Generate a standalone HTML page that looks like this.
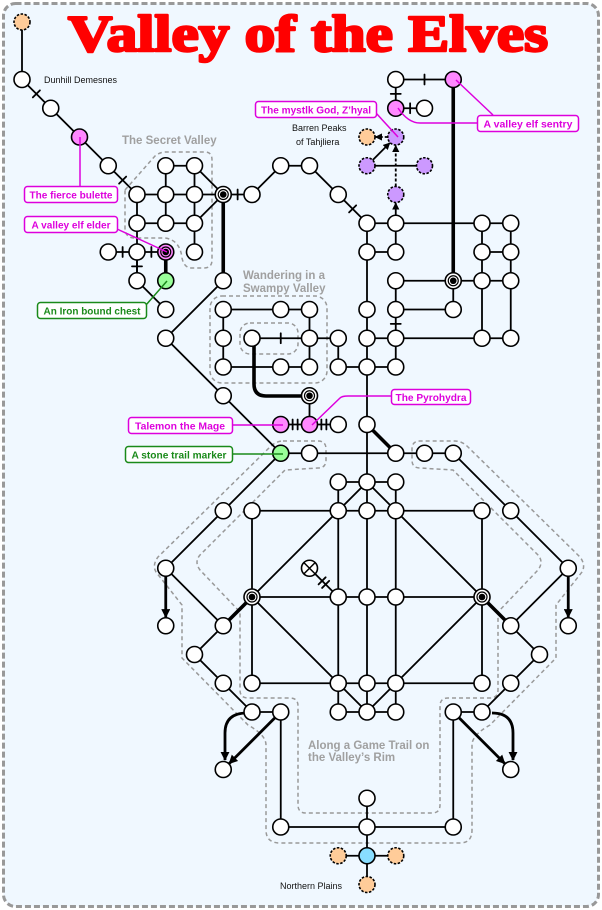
<!DOCTYPE html>
<html><head><meta charset="utf-8"><style>
html,body{margin:0;padding:0;background:#fff;}
svg{display:block;}
.lb{font-family:"Liberation Sans",sans-serif;font-weight:bold;font-size:10.5px;}
.sm{font-family:"Liberation Sans",sans-serif;font-size:9px;fill:#111;}
.rg{font-family:"Liberation Sans",sans-serif;font-weight:bold;font-size:11.5px;fill:#a0a0a0;}
</style></head><body>
<svg id="s" width="602" height="910" viewBox="0 0 602 910" xmlns="http://www.w3.org/2000/svg">
<defs>
<marker id="ah" viewBox="0 0 10 10" refX="9" refY="5" markerWidth="3.2" markerHeight="3.2" orient="auto" markerUnits="strokeWidth"><path d="M0,0 L10,5 L0,10 Z" fill="#000"/></marker>
<marker id="as" viewBox="0 0 10 10" refX="9" refY="5" markerWidth="4" markerHeight="4" orient="auto" markerUnits="strokeWidth"><path d="M0,0 L10,5 L0,10 Z" fill="#000"/></marker>
</defs>
<rect x="3.5" y="3.5" width="595" height="903" rx="12" fill="#f0f8ff" stroke="#999" stroke-width="3" stroke-dasharray="6,3"/>
<text x="308" y="51" text-anchor="middle" font-family="'Liberation Serif',serif" font-weight="bold" font-size="52" fill="#ff0000" stroke="#ff0000" stroke-width="2.5" stroke-linejoin="round" textLength="480" lengthAdjust="spacingAndGlyphs">Valley of the Elves</text>
<g fill="none" stroke="#999" stroke-width="1.5" stroke-dasharray="4,3">
<path d="M125,190 L155,156 Q160,152 166,152 L205,152 Q212,152 212,160 L212,260 Q212,268 204,268 L192,268 Q184,268 182,258 Q180,240 165,238 L135,238 Q125,238 125,228 Z"/>
<rect x="210" y="296" width="117" height="87" rx="12"/>
<rect x="240" y="323" width="58" height="31" rx="10"/>
<path d="M283,441 L318,441 Q326,441 326,449 L326,460 Q326,468 318,468 L285,470 L200,555 Q194,562 200,570 L240,612 L240,690 Q240,698 248,698 L290,698 Q298,698 298,706 L298,805 Q298,813 306,813 L432,813 Q440,813 440,805 L440,706 Q440,698 448,698 L490,698 Q498,698 498,690 L498,612 L538,570 Q544,562 538,555 L453,470 L420,468 Q412,468 412,460 L412,449 Q412,441 420,441 L455,441 Q462,441 468,447 L580,557 Q586,565 582,572 L556,605 L556,658 L490,725 Q472,735 472,745 L472,830 Q472,843 460,843 L280,843 Q266,843 266,830 L266,745 Q266,735 248,725 L182,658 L182,605 L156,572 Q152,565 158,557 L270,447 Q276,441 283,441 Z"/>
</g>
<g id="edges" stroke="#000" fill="none" stroke-linecap="round"></g>
<g id="nodes"></g>
<g fill="none" stroke-width="1.5">
<path d="M80,137 L80,186" stroke="#dd00dd"/>
<path d="M117,229 L167,252" stroke="#dd00dd"/>
<path d="M146,305 L167,281" stroke="#1a8a1a"/>
<path d="M376,113 L398,137" stroke="#dd00dd"/>
<path d="M456,80 L493,115" stroke="#dd00dd"/>
<path d="M398,108 Q408,123 420,123 L477,123" stroke="#dd00dd"/>
<path d="M312,425 L340,398 Q342,396 348,396 L391,396" stroke="#dd00dd"/>
<path d="M232,425 L283,425" stroke="#dd00dd"/>
<path d="M232,454 L283,454" stroke="#1a8a1a"/>
</g>
<g stroke-width="1.5" fill="#fff">
<rect x="24.5" y="186.5" width="93" height="16" rx="3" stroke="#dd00dd"/>
<rect x="24.5" y="216.5" width="93" height="16" rx="3" stroke="#dd00dd"/>
<rect x="37.5" y="302.5" width="109" height="16" rx="3" stroke="#1a8a1a"/>
<rect x="255.5" y="101.5" width="121" height="16" rx="3" stroke="#dd00dd"/>
<rect x="477.5" y="115.5" width="101" height="16" rx="3" stroke="#dd00dd"/>
<rect x="391.5" y="389.5" width="79" height="15" rx="3" stroke="#dd00dd"/>
<rect x="128.5" y="417.5" width="104" height="16" rx="3" stroke="#dd00dd"/>
<rect x="125.5" y="446.5" width="107" height="16" rx="3" stroke="#1a8a1a"/>
</g>
<g class="lb" fill="#dd00dd" text-anchor="middle" lengthAdjust="spacingAndGlyphs">
<text x="71" y="198.5" textLength="83" lengthAdjust="spacingAndGlyphs">The fierce bulette</text>
<text x="71" y="228.5" textLength="79" lengthAdjust="spacingAndGlyphs">A valley elf elder</text>
<text x="316" y="113.5" textLength="110" lengthAdjust="spacingAndGlyphs">The mystlk God, Z’hyal</text>
<text x="528" y="127.5" textLength="89" lengthAdjust="spacingAndGlyphs">A valley elf sentry</text>
<text x="431" y="401" textLength="71" lengthAdjust="spacingAndGlyphs">The Pyrohydra</text>
<text x="180" y="429.5" textLength="90" lengthAdjust="spacingAndGlyphs">Talemon the Mage</text>
</g>
<g class="lb" fill="#1a8a1a" text-anchor="middle">
<text x="92" y="314.5" textLength="97" lengthAdjust="spacingAndGlyphs">An Iron bound chest</text>
<text x="179" y="458.5" textLength="95" lengthAdjust="spacingAndGlyphs">A stone trail marker</text>
</g>
<text class="sm" x="44" y="83">Dunhill Demesnes</text>
<text class="sm" x="292" y="131">Barren Peaks</text>
<text class="sm" x="296" y="145">of Tahjliera</text>
<text class="sm" x="280" y="889">Northern Plains</text>
<text class="rg" x="122" y="144">The Secret Valley</text>
<text class="rg" x="243" y="279">Wandering in a</text>
<text class="rg" x="243" y="292">Swampy Valley</text>
<text class="rg" x="308" y="749">Along a Game Trail on</text>
<text class="rg" x="308" y="761">the Valley’s Rim</text>
</svg>
<script>
var NS="http://www.w3.org/2000/svg";
function X(i){return 22+28.75*i;}
function el(p,t,a){var e=document.createElementNS(NS,t);for(var k in a)e.setAttribute(k,a[k]);p.appendChild(e);return e;}
var E=document.getElementById("edges"),N=document.getElementById("nodes");
function ln(a,b,c,d,w,extra){var o={x1:X(a),y1:X(b),x2:X(c),y2:X(d),"stroke-width":w||1.8};for(var k in extra)o[k]=extra[k];return el(E,"line",o);}
function tick(a,b,c,d,n){var x1=X(a),y1=X(b),x2=X(c),y2=X(d);var mx=(x1+x2)/2,my=(y1+y2)/2;var L=Math.hypot(x2-x1,y2-y1),ux=(x2-x1)/L,uy=(y2-y1)/L,px=-uy,py=ux;
 var offs=n==2?[-2.5,2.5]:[0];offs.forEach(function(o){var cx=mx+ux*o,cy=my+uy*o;el(E,"line",{x1:cx+px*5,y1:cy+py*5,x2:cx-px*5,y2:cy-py*5,"stroke-width":1.8});});}
function arr(a,b,c,d,w,dash,mk){var x1=X(a),y1=X(b),x2=X(c),y2=X(d);var L=Math.hypot(x2-x1,y2-y1),ux=(x2-x1)/L,uy=(y2-y1)/L;
 var o={x1:x1+ux*8,y1:y1+uy*8,x2:x2-ux*8.5,y2:y2-uy*8.5,"stroke-width":w,"marker-end":"url(#"+mk+")","stroke-linecap":"butt"};if(dash)o["stroke-dasharray"]="3,2";el(E,"line",o);}
var thin=[[0,0,0,2],[1,3,2,4],[2,4,3,5],[4,6,7,6],[5,5,6,5],[5,5,5,7],[6,5,6,8],[6,5,7,6],[4,6,4,9],[4,7,6,7],[6,7,7,6],[4,9,5,10],[8,6,9,5],[9,5,10,5],[10,5,11,6],[7,9,5,11],[5,11,9,15],
[12,7,17,7],[12,8,13,8],[16,8,17,8],[12,7,12,24],[12,27,12,30],[13,7,13,8],[13,9,17,9],[13,9,13,10],[13,11,13,12],[13,10,15,10],[15,9,15,10],[16,7,16,11],[17,7,17,11],[12,11,17,11],[12,5,14,5],
[7,10,10,10],[7,10,7,12],[10,10,10,12],[10,11,11,11],[7,12,10,12],[11,11,11,12],[11,12,13,12],[10,13,10,14],
[9,15,15,15],[11,16,13,16],[8,17,16,17],[11,16,11,24],[13,16,13,24],[8,17,8,23],[16,17,16,23],[8,20,16,20],[12,16,8,20],[12,16,16,20],[8,20,12,24],[16,20,12,24],[8,23,16,23],[11,24,13,24],
[9,15,5,19],[15,15,19,19],[5,19,7,21],[19,19,17,21],[7,21,6,22],[17,21,18,22],[6,22,8,24],[18,22,16,24],[8,24,9,24],[15,24,16,24],[9,24,9,28],[15,24,15,28],[9,28,15,28],[11,29,13,29]];
thin.forEach(function(e){ln(e[0],e[1],e[2],e[3]);});
var ticks=[[0,2,1,3],[3,5,4,6],[3,8,4,8],[4,8,5,8],[4,8,4,9],[7,6,8,6],[11,6,12,7],[13,10,13,11],[13,2,15,2],[13,2,13,3],[13,3,14,3],[8,11,10,11]];
ticks.forEach(function(e){ln(e[0],e[1],e[2],e[3]);tick(e[0],e[1],e[2],e[3],1);});
var dbl=[[9,14,10,14],[10,14,11,14],[10,19,11,20]];
dbl.forEach(function(e){ln(e[0],e[1],e[2],e[3]);tick(e[0],e[1],e[2],e[3],2);});
[[5,8,5,9],[7,6,7,9],[15,2,15,9],[12,14,13,15],[7,21,8,20],[17,21,16,20]].forEach(function(e){ln(e[0],e[1],e[2],e[3],3.6);});
el(E,"path",{d:"M254,339 L254,384 Q254,396 266,396 L312,396","stroke-width":3.6});
arr(13,7,13,6,1.8,false,"as");arr(13,6,13,4,1.8,true,"as");arr(13,4,12,4,1.8,true,"as");arr(12,5,13,4,1.8,false,"as");
arr(5,19,5,21,2.8,false,"ah");arr(19,19,19,21,2.8,false,"ah");arr(9,24,7,26,2.8,false,"ah");arr(15,24,17,26,2.8,false,"ah");
el(E,"path",{d:"M247,713 Q225,713 225,733 L225,760","stroke-width":2.8,"marker-end":"url(#ah)","stroke-linecap":"butt"});
el(E,"path",{d:"M492,713 Q513,713 513,733 L513,760","stroke-width":2.8,"marker-end":"url(#ah)","stroke-linecap":"butt"});
var T={o:[[0,0],[11,29],[13,29],[12,30],[12,4]],u:[[13,4],[12,5],[14,5],[13,6]],c:[[12,29]],p:[[2,4],[13,3],[15,2],[9,14],[10,14]],pb:[[5,8]],g:[[5,9],[9,15]],b:[[7,6],[15,9],[10,13],[8,20],[16,20]],x:[[10,19]],
w:[[0,2],[1,3],[3,5],[4,6],[5,6],[6,6],[5,5],[6,5],[4,7],[5,7],[6,7],[3,8],[4,8],[6,8],[4,9],[5,10],[8,6],[9,5],[10,5],[11,6],[12,7],[13,7],[16,7],[17,7],[12,8],[13,8],[16,8],[17,8],[13,9],[16,9],[17,9],[12,10],[13,10],[15,10],[12,11],[13,11],[16,11],[17,11],[13,2],[14,3],[7,9],[5,11],[7,13],[7,10],[9,10],[10,10],[7,11],[8,11],[10,11],[11,11],[7,12],[9,12],[10,12],[11,12],[12,12],[13,12],[11,14],[12,14],[10,15],[13,15],[14,15],[15,15],[11,16],[12,16],[13,16],[7,17],[8,17],[11,17],[12,17],[13,17],[16,17],[17,17],[5,19],[19,19],[5,21],[19,21],[7,21],[17,21],[11,20],[12,20],[13,20],[6,22],[18,22],[7,23],[8,23],[11,23],[12,23],[13,23],[16,23],[17,23],[8,24],[9,24],[11,24],[12,24],[13,24],[15,24],[16,24],[7,26],[17,26],[12,27],[9,28],[12,28],[15,28]]};
var fill={w:"#fff",p:"#ff88ff",pb:"#ff88ff",g:"#99ff99",b:"#fff",o:"#ffcc99",u:"#cc99ff",c:"#88ddff",x:"#fff"};
for(var k in T){T[k].forEach(function(n){var cx=X(n[0]),cy=X(n[1]);var a={cx:cx,cy:cy,r:8,fill:fill[k],stroke:"#000","stroke-width":1.6};if(k=="o"||k=="u")a["stroke-dasharray"]="2.5,1.5";el(N,"circle",a);
 if(k=="b"||k=="pb"){el(N,"circle",{cx:cx,cy:cy,r:5,fill:"none",stroke:"#000","stroke-width":1.2});el(N,"circle",{cx:cx,cy:cy,r:3.3,fill:"#000"});}
 if(k=="x"){el(N,"line",{x1:cx-5.5,y1:cy-5.5,x2:cx+5.5,y2:cy+5.5,stroke:"#000","stroke-width":1.5});el(N,"line",{x1:cx+5.5,y1:cy-5.5,x2:cx-5.5,y2:cy+5.5,stroke:"#000","stroke-width":1.5});}
});}
</script>
</body></html>
